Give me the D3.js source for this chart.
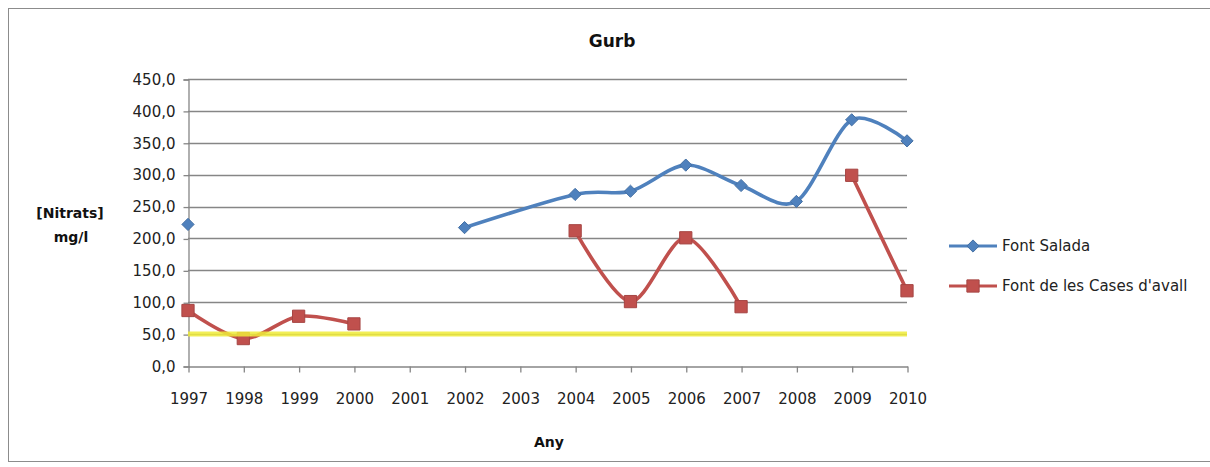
<!DOCTYPE html>
<html>
<head>
<meta charset="utf-8">
<script src="https://cdn.jsdelivr.net/npm/d3@7"></script>
<style>
  html, body { margin: 0; padding: 0; background: #fff; }
  svg { display: block; font-family: "DejaVu Sans", sans-serif; }
</style>
</head>
<body>
<svg id="chart" width="1210" height="467"></svg>
<script>
// Sampling years (category axis)
const years = ["1997","1998","1999","2000","2001","2002","2003","2004","2005","2006","2007","2008","2009","2010"];

// Nitrate concentration, mg/l. null = no sample (line breaks),
// "#N/A" = no sample but the line is carried across.
const fontSalada = [222, null, null, null, null, 217, "#N/A", 269, 274, 315, 283, 258, 386, 353];
const fontCases  = [87, 43, 78, 66, null, null, null, 212, 101, 201, 93, null, 299, 118];

// Drinking water limit for nitrates
const limitValue = 50;

const yTicks = [0, 50, 100, 150, 200, 250, 300, 350, 400, 450];

const seriesNames = ["Font Salada", "Font de les Cases d'avall"];
const seriesColors = ["#4f81bd", "#c0504d"];

const svg = d3.select("#chart");

// chart frame
svg.append("rect")
  .attr("x", 8.5).attr("y", 8.5)
  .attr("width", 1215).attr("height", 453)
  .attr("fill", "#fff").attr("stroke", "#8c8c8c").attr("stroke-width", 1);

const x = d3.scalePoint().domain(years).range([188, 907]);
const y = d3.scaleLinear().domain([0, 450]).range([366, 79]);

// horizontal gridlines
svg.append("g")
  .selectAll("line")
  .data(yTicks.filter(t => t > 0))
  .join("line")
  .attr("x1", 188).attr("x2", 907)
  .attr("y1", d => Math.round(y(d)) + 0.5).attr("y2", d => Math.round(y(d)) + 0.5)
  .attr("stroke", "#868686").attr("stroke-width", 1.3);

// y axis
const yAxis = svg.append("g")
  .attr("transform", "translate(188.5,0.5)")
  .call(d3.axisLeft(y).tickValues(yTicks).tickSize(5).tickPadding(8)
    .tickFormat(d => d3.format(".1f")(d).replace(".", ",")));
yAxis.select(".domain").attr("stroke", "#868686").attr("stroke-width", 1.3);
yAxis.selectAll(".tick line").attr("stroke", "#868686").attr("stroke-width", 1.3);
yAxis.selectAll(".tick text").attr("font-size", 15).attr("fill", "#222")
  .attr("font-family", "DejaVu Sans");

// x axis
const xAxis = svg.append("g")
  .attr("transform", "translate(0.5," + (Math.round(y(0)) + 0.5) + ")")
  .call(d3.axisBottom(x).tickSize(6).tickPadding(21).tickSizeOuter(0));
xAxis.select(".domain").attr("stroke", "#868686").attr("stroke-width", 1.3);
xAxis.selectAll(".tick line").attr("stroke", "#868686").attr("stroke-width", 1.3);
xAxis.selectAll(".tick text").attr("font-size", 15).attr("fill", "#222")
  .attr("font-family", "DejaVu Sans");

// split a series into drawable runs
function segments(values) {
  const segs = [];
  let cur = [];
  values.forEach((v, i) => {
    if (v === null) {
      if (cur.length) segs.push(cur);
      cur = [];
    } else if (typeof v === "number") {
      cur.push({ year: years[i], value: v });
    }
  });
  if (cur.length) segs.push(cur);
  return segs;
}

const line = d3.line()
  .x(d => x(d.year))
  .y(d => y(d.value))
  .curve(d3.curveCardinal.tension(0.1));

const diamond = d3.symbol().type(d3.symbolDiamond2 || d3.symbolDiamond).size(95);
const square = d3.symbol().type(d3.symbolSquare).size(150);

function drawSeries(values, color, marker) {
  const g = svg.append("g");
  segments(values).forEach(seg => {
    if (seg.length > 1) {
      g.append("path")
        .attr("d", line(seg))
        .attr("fill", "none")
        .attr("stroke", color)
        .attr("stroke-width", 3.6)
        .attr("stroke-linejoin", "round")
        .attr("stroke-linecap", "round");
    }
  });
  const pts = values.map((v, i) => ({ year: years[i], value: v }))
    .filter(d => typeof d.value === "number");
  g.selectAll("path.m")
    .data(pts)
    .join("path")
    .attr("class", "m")
    .attr("d", marker)
    .attr("transform", d => `translate(${x(d.year)},${y(d.value)})`)
    .attr("fill", color)
    .attr("stroke", d3.color(color).darker(0.4))
    .attr("stroke-width", 1);
}

drawSeries(fontSalada, seriesColors[0], diamond);
drawSeries(fontCases, seriesColors[1], square);

// limit line
svg.append("line")
  .attr("x1", x(years[0])).attr("x2", x(years[years.length - 1]))
  .attr("y1", y(limitValue)).attr("y2", y(limitValue))
  .attr("stroke", "#f0ec3a").attr("stroke-width", 5)
  .attr("stroke-opacity", 0.85);

// title
svg.append("text")
  .attr("x", 612).attr("y", 47)
  .attr("text-anchor", "middle")
  .attr("font-size", 17).attr("font-weight", "bold").attr("fill", "#111")
  .text("Gurb");

// y axis title
const yt = svg.append("text")
  .attr("text-anchor", "middle")
  .attr("font-size", 14).attr("font-weight", "bold").attr("fill", "#111");
yt.append("tspan").attr("x", 70).attr("y", 218).text("[Nitrats]");
yt.append("tspan").attr("x", 71).attr("y", 242).text("mg/l");

// x axis title
svg.append("text")
  .attr("x", 549).attr("y", 447)
  .attr("text-anchor", "middle")
  .attr("font-size", 14).attr("font-weight", "bold").attr("fill", "#111")
  .text("Any");

// legend
const legend = svg.append("g");
const legendMarkers = [diamond, square];
const legendY = [246, 286];
seriesNames.forEach((name, i) => {
  const gy = legendY[i];
  legend.append("line")
    .attr("x1", 949).attr("x2", 997)
    .attr("y1", gy).attr("y2", gy)
    .attr("stroke", seriesColors[i]).attr("stroke-width", 3);
  legend.append("path")
    .attr("d", legendMarkers[i])
    .attr("transform", `translate(973,${gy})`)
    .attr("fill", seriesColors[i])
    .attr("stroke", d3.color(seriesColors[i]).darker(0.4))
    .attr("stroke-width", 1);
  legend.append("text")
    .attr("x", 1002).attr("y", gy + 5)
    .attr("font-size", 15).attr("fill", "#222")
    .text(name);
});
</script>
</body>
</html>
